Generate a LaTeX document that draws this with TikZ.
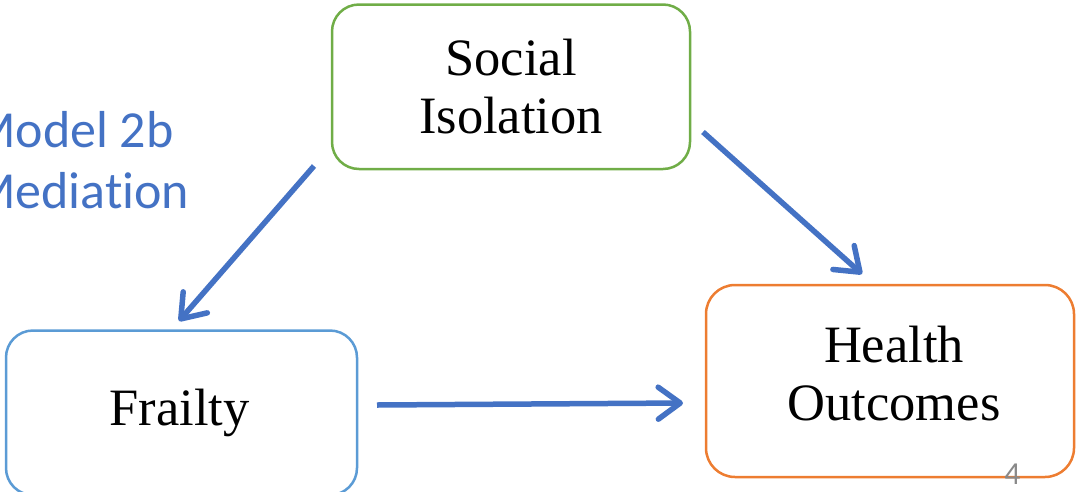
\documentclass[tikz,border=0pt]{standalone}
\usepackage{fontspec}
\setmainfont{Liberation Serif}
\newfontfamily\calibrifont[Ligatures=NoCommon]{Carlito}
\usetikzlibrary{arrows.meta}
\definecolor{boxgreen}{HTML}{70AD47}
\definecolor{boxblue}{HTML}{5B9BD5}
\definecolor{boxorange}{HTML}{ED7D31}
\definecolor{arrowblue}{HTML}{4472C4}
\definecolor{pagegray}{HTML}{898989}
\tikzset{
  box/.style={draw=#1, line width=2.5pt, rounded corners=27pt, rectangle, inner sep=0pt, fill=none},
  lbl/.style={font=\fontsize{52.5}{58}\selectfont, inner sep=0pt, anchor=base, align=center},
  arr/.style={draw=arrowblue, line width=5.5pt, -{Straight Barb[length=22pt,width=32pt,line width=5.5pt,round]}},
}
\begin{document}
\begin{tikzpicture}[x=1pt,y=-1pt]
\useasboundingbox (0,0) rectangle (1076,491);
% boxes
\node[box=boxgreen, minimum width=358pt, minimum height=164.5pt] (si) at (511,86.75) {};
\node[box=boxblue, minimum width=351pt, minimum height=164.5pt] (fr) at (181.5,412.75) {};
\node[box=boxorange, minimum width=368pt, minimum height=192pt, rounded corners=29pt] (ho) at (890,381) {};
% labels (base anchor = baseline of the last line)
\node[lbl] (sit) at (511,133) {Social\\Isolation};
\node[lbl] (frt) at (179.5,425) {Frailty};
\node[lbl] (hot) at (894,420) {Health\\Outcomes};
% title
\node[font=\calibrifont\fontsize{52}{61}\selectfont, text=arrowblue, inner sep=0pt, anchor=base west, align=left] (title) at (-29,208) {Model 2b\\Mediation};
% page number
\node[font=\calibrifont\fontsize{32}{36}\selectfont, text=pagegray, inner sep=0pt, anchor=base] (pg) at (1012.5,484) {4};
% connector end points
\coordinate (a1s) at (314,166);
\coordinate (a1e) at (179,321);
\coordinate (a2s) at (703,132);
\coordinate (a2e) at (862,274);
\coordinate (a3s) at (377,405);
\coordinate (a3e) at (683,403);
\draw[arr] (a1s) -- (a1e);
\draw[arr] (a2s) -- (a2e);
\draw[arr] (a3s) -- (a3e);
\end{tikzpicture}
\end{document}
